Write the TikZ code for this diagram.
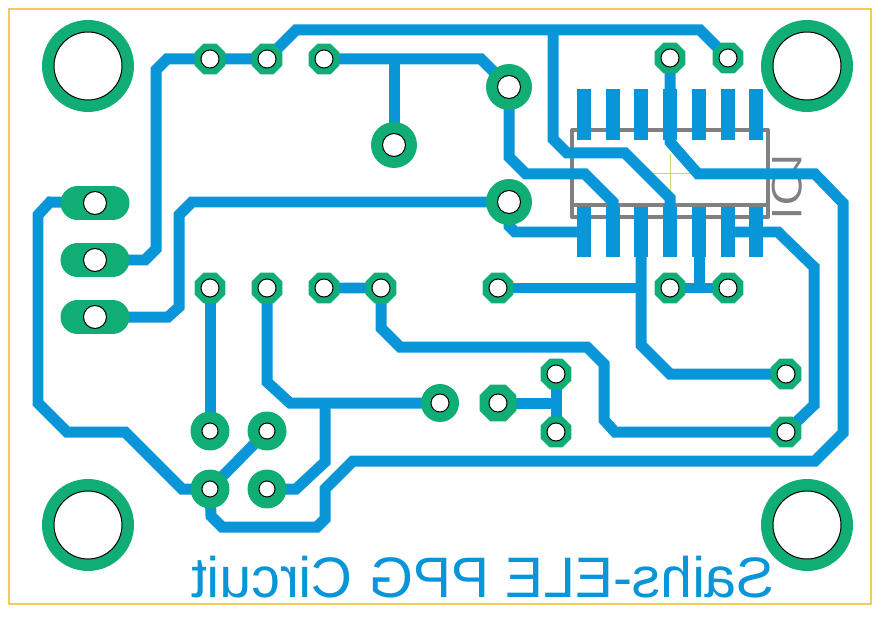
\documentclass[tikz,border=0pt]{standalone}
\usepackage{fontspec}
\setmainfont{Liberation Sans}
\newfontfamily\silkfont{Open Sans}
\usetikzlibrary{shapes.geometric,shapes.misc}

\definecolor{trackblue}{HTML}{0896D9}
\definecolor{padgreen}{HTML}{10AD75}
\definecolor{silkgray}{HTML}{808080}
\definecolor{edgeyellow}{HTML}{F3CC55}
\definecolor{crossgreen}{HTML}{C4DC6A}

\tikzset{
	track/.style={draw=trackblue,line width=0.22cm,line join=miter},
	smdpad/.style={fill=trackblue},
	silk/.style={draw=silkgray,line width=0.08cm,line join=round},
	octpad/.style={regular polygon,regular polygon sides=8,fill=padgreen,minimum size=0.67cm,inner sep=0pt},
	bigoct/.style={octpad,minimum size=0.8cm},
	roundpad/.style={circle,fill=padgreen,minimum size=0.76cm,inner sep=0pt},
	longpad/.style={rounded rectangle,fill=padgreen,minimum width=1.38cm,minimum height=0.68cm,inner sep=0pt},
	mounthole/.style={circle,fill=white,draw=black,line width=0.02cm},
}

\begin{document}
\begin{tikzpicture}[x=0.02cm,y=-0.02cm]
\useasboundingbox (0,0) rectangle (882,618);

%% coordonnees des pastilles
\coordinate(j1) at (95,203);
\coordinate(j2) at (95,260);
\coordinate(j3) at (95,317);
\foreach \n/\x in {1/210,2/267,3/324}{
	\coordinate(t\n) at (\x,59);
}
\coordinate(t4) at (670,58);
\coordinate(t5) at (728,58);
\foreach \n/\x in {1/210,2/267,3/324,4/381,5/498,6/670,7/728}{
	\coordinate(m\n) at (\x,288);
}
\coordinate(r1) at (509,87);
\coordinate(r2) at (394,145);
\coordinate(r3) at (509,202);
\coordinate(r4) at (440,403);
\coordinate(r5) at (498,403);
\coordinate(s1) at (210,431);
\coordinate(s2) at (267,431);
\coordinate(s3) at (210,489);
\coordinate(s4) at (267,489);
\coordinate(e1) at (556,374);
\coordinate(e2) at (556,432);
\coordinate(e3) at (786,374);
\coordinate(e4) at (786,432);
% broches du circuit
\foreach \n/\x in {1/584,2/613,3/641,4/670,5/699,6/728,7/756}{
	\coordinate(u\n) at (\x,89);
	\coordinate(d\n) at (\x,232);
}

%% contour de la carte
\draw [edgeyellow,line width=0.025cm] (9,9) rectangle (871,604);

%% boitier
\draw [silk] (572,130) rectangle (768,217);
\draw [silk] (572,205)--(768,205);
\draw [crossgreen,line width=0.02cm] (653,174)--(693,174);
\draw [crossgreen,line width=0.02cm] (670,153)--(670,193);
\node (lbl) [silkgray,xscale=-1,rotate=90,xscale=1.2,font=\silkfont\fontsize{23.4}{23.4}\selectfont] at (787.5,184) {IC1};

%% broches
\foreach \n in {1,...,7}{
	\fill [smdpad] (u\n) ++(-7.25,0) rectangle ++(14.5,51);
	\fill [smdpad] (d\n) ++(-7.25,-25) rectangle ++(14.5,50);
}

%% pistes haut
\draw [track] (j2)--(145,260)--(156,249)--(156,70)--(167,59)--(t1)--(t2)--(296,30)--(700,30)--(t5);
\draw [track] (553,30)--(553,139)--(567,153)--(625,153)--(670,198)--(670,232);
\draw [track] (t3)--(481,59)--(r1)--(509,157)--(526,174)--(585,174)--(613,202)--(d2);
\draw [track] (394,59)--(r2);
\draw [track] (t4)--(670,142)--(698,174)--(815,174)--(843,203)--(843,433)--(815,461)--(353,461)--(325,489)--(325,519)--(317,527)--(222,527)--(211,516)--(s3);

%% pistes milieu
\draw [track] (r3)--(192,202)--(179,215)--(179,307)--(168,317)--(j3);
\draw [track] (r3)--(509,226)--(515,232)--(d1);
\draw [track] (j1)--(50,202)--(38,215)--(38,403)--(67,432)--(125,432)--(182,489)--(s3);
\draw [track] (m1)--(s1);
\draw [track] (m2)--(267,382)--(290,403)--(r4);
\draw [track] (325,403)--(325,462)--(296,489)--(s4);
\draw [track] (s3)--(s2);

%% pistes droite
\draw [track] (m3)--(m4)--(381,328)--(400,347)--(587,347)--(604,364)--(604,420)--(615,432)--(e4)--(814,405)--(814,267)--(778,232)--(d6);
\draw [track] (m5)--(641,288);
\draw [track] (d3)--(641,345)--(670,374)--(e3);
\draw [track] (m6)--(m7);
\draw [track] (d5)--(699,288);
\draw [track] (r5)--(556,403);
\draw [track] (e1)--(e2);

%% pastilles
\foreach \c in {t1,t2,t3,t4,t5,m1,m2,m3,m4,m5,m6,m7,e1,e2,e3,e4}{
	\node (p\c) [octpad] at (\c) {};
	\node (h\c) [mounthole,minimum size=0.36cm,inner sep=0pt] at (\c) {};
}
\foreach \c in {r1,r2,r3}{
	\node (p\c) [circle,fill=padgreen,minimum size=0.92cm,inner sep=0pt] at (\c) {};
	\node (h\c) [mounthole,minimum size=0.46cm,inner sep=0pt] at (\c) {};
}
\foreach \c in {s1,s2,s3,s4}{
	\node (p\c) [circle,fill=padgreen,minimum size=0.78cm,inner sep=0pt] at (\c) {};
	\node (h\c) [mounthole,minimum size=0.32cm,inner sep=0pt] at (\c) {};
}
\node (pr4) [roundpad] at (r4) {};
\node (hr4) [mounthole,minimum size=0.36cm,inner sep=0pt] at (r4) {};
\node (pr5) [bigoct] at (r5) {};
\node (hr5) [mounthole,minimum size=0.36cm,inner sep=0pt] at (r5) {};
\foreach \c in {j1,j2,j3}{
	\node (p\c) [longpad] at (\c) {};
	\node (h\c) [mounthole,minimum size=0.46cm,inner sep=0pt] at (\c) {};
}

%% trous de fixation
\foreach \n/\x/\y in {a/88/66,b/807/66,c/88/525,d/807/525}{
	\node (f\n) [circle,fill=padgreen,minimum size=1.84cm,inner sep=0pt] at (\x,\y) {};
	\node (g\n) [mounthole,minimum size=1.36cm,inner sep=0pt] at (\x,\y) {};
}

\node (title) [trackblue,xscale=-1,font=\fontsize{32.5}{32.5}\selectfont] at (483,577) {Saihs-ELE PPG Circuit};
\end{tikzpicture}
\end{document}
